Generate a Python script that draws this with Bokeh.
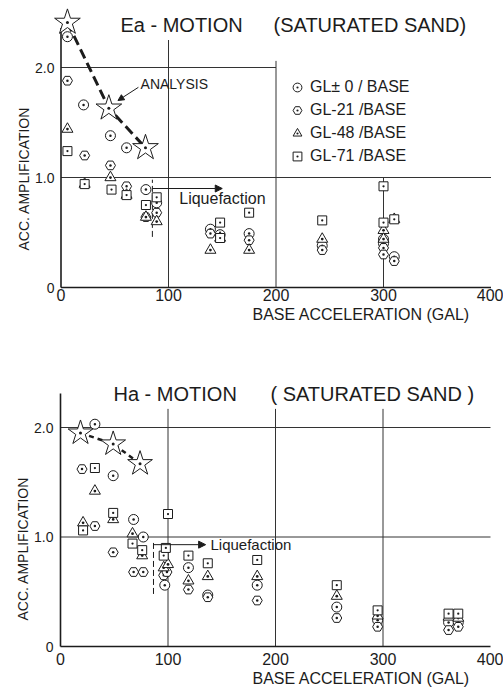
import numpy as np
from bokeh.plotting import figure
from bokeh.layouts import column
from bokeh.models import Range1d, FixedTicker, Title, Arrow, NormalHead, Legend, LegendItem
from bokeh.embed import file_html
from bokeh.resources import INLINE
from bokeh.core.properties import value

FONT = "Liberation Sans"
INK = "#1c1c1c"

# ---------------- tick labels / categories ----------------
X_TICKS = [0, 100, 200, 300, 400]
Y_TICKS = [0, 1, 2]
Y_TICK_LABELS = {0: "0", 1: "1.0", 2: "2.0"}
SERIES = ["GL± 0 / BASE", "GL-21 /BASE", "GL-48 /BASE", "GL-71 /BASE"]
MARKERS = ["circle_dot", "hex_dot", "triangle_dot", "square_dot"]

# ---------------- Ea - MOTION (top) ----------------
ea_gl0_x = [6, 21, 46, 61, 79, 89, 139, 148, 175, 243, 300, 300, 310]
ea_gl0_y = [2.28, 1.66, 1.38, 1.27, 0.89, 0.77, 0.53, 0.48, 0.49, 0.38, 0.44, 0.40, 0.28]
ea_gl21_x = [6, 22, 46, 61, 79, 89, 139, 175, 243, 300, 300, 310]
ea_gl21_y = [1.88, 1.20, 1.11, 0.92, 0.64, 0.68, 0.49, 0.43, 0.34, 0.36, 0.30, 0.24]
ea_gl48_x = [6, 22, 46, 61, 79, 89, 139, 148, 175, 243, 300, 300, 310]
ea_gl48_y = [1.44, 0.94, 1.00, 0.84, 0.64, 0.60, 0.34, 0.45, 0.34, 0.44, 0.52, 0.44, 0.62]
ea_gl71_x = [6, 22, 47, 61, 79, 89, 148, 148, 175, 243, 300, 300, 310]
ea_gl71_y = [1.24, 0.94, 0.89, 0.84, 0.75, 0.82, 0.59, 0.45, 0.68, 0.61, 0.92, 0.59, 0.62]
ea_analysis_x = [6, 44.5, 78.6]
ea_analysis_y = [2.41, 1.63, 1.27]

# ---------------- Ha - MOTION (bottom) ----------------
ha_gl0_x = [32, 49, 68, 77, 97, 119, 137, 183, 257, 295, 361, 370]
ha_gl0_y = [2.03, 1.56, 1.16, 1.00, 0.56, 0.72, 0.47, 0.56, 0.36, 0.24, 0.22, 0.22]
ha_gl21_x = [20, 32, 49, 68, 77, 96, 99, 119, 137, 183, 257, 295, 361, 370]
ha_gl21_y = [1.62, 1.10, 0.86, 0.68, 0.68, 0.65, 0.68, 0.52, 0.45, 0.42, 0.26, 0.18, 0.15, 0.18]
ha_gl48_x = [21, 32, 49, 67, 76, 96, 100, 119, 137, 183, 257, 295, 361, 370]
ha_gl48_y = [1.13, 1.42, 1.16, 1.03, 0.83, 0.72, 0.75, 0.60, 0.64, 0.64, 0.46, 0.28, 0.27, 0.26]
ha_gl71_x = [21, 32, 49, 67, 76, 96, 98, 100, 119, 137, 183, 257, 295, 361, 370]
ha_gl71_y = [1.06, 1.63, 1.22, 0.94, 0.88, 0.83, 0.90, 1.21, 0.83, 0.76, 0.79, 0.56, 0.33, 0.30, 0.30]
ha_analysis_x = [18.6, 49, 74]
ha_analysis_y = [1.95, 1.85, 1.67]

Y_LABEL = "ACC. AMPLIFICATION"
X_LABEL = "BASE ACCELERATION  (GAL)"


def base_fig(height, x_range, y_range, border_bottom, y_standoff, x_standoff, ylab_offset, xlab_offset):
    p = figure(width=503, height=height, x_range=Range1d(*x_range), y_range=Range1d(*y_range),
               output_backend="svg", toolbar_location=None, title=None,
               min_border_left=50, min_border_right=3, min_border_top=0,
               min_border_bottom=border_bottom)
    p.outline_line_color = None
    p.background_fill_color = "white"
    p.border_fill_color = "white"
    p.grid.visible = False
    for ax in (p.xaxis, p.yaxis):
        ax.axis_line_color = None
        ax.major_tick_line_color = None
        ax.minor_tick_line_color = None
        ax.major_tick_in = 0
        ax.major_tick_out = 0
        ax.major_label_text_font = FONT
        ax.major_label_text_color = INK
    p.xaxis.ticker = FixedTicker(ticks=X_TICKS)
    p.yaxis.ticker = FixedTicker(ticks=Y_TICKS)
    p.yaxis.major_label_overrides = Y_TICK_LABELS
    p.xaxis.major_label_text_font_size = "16px"
    p.yaxis.major_label_text_font_size = "14px"
    p.yaxis.major_label_standoff = y_standoff
    p.xaxis.major_label_standoff = x_standoff
    p.add_layout(Title(text=Y_LABEL, align="left", offset=ylab_offset, standoff=2,
                       text_font=FONT, text_font_size="14px", text_font_style="normal",
                       text_color=INK), "left")
    p.add_layout(Title(text=X_LABEL, align="right", offset=xlab_offset, standoff=0,
                       text_font=FONT, text_font_size="16px", text_font_style="normal",
                       text_color=INK), "below")
    return p


def draw_points(p, xs, ys):
    rends = []
    for (x, y), m in zip(zip(xs, ys), MARKERS):
        size = 9 if m == "square_dot" else (11 if m == "triangle_dot" else 10)
        r = p.scatter(x, y, marker=m, size=size, fill_color="white", line_color=INK, line_width=1)
        rends.append(r)
    return rends


def draw_stars(p, xs, ys, size):
    p.scatter(xs, ys, marker="star", size=size, fill_color="white", line_color=INK, line_width=1)
    p.scatter(xs, ys, marker="circle", size=3, fill_color=INK, line_color=None)


# ======================= TOP PANEL =======================
sx1, x01 = 1.075, 60.5
sy1, y01 = 110.0, 287.0
p1 = base_fig(330, ((50 - x01) / sx1, (500 - x01) / sx1), (-5 / sy1, y01 / sy1), 38, -4, -4, 42, 26)

# partial grid + axis lines
p1.segment(x0=[0, 0], y0=[2, 1], x1=[200, 400], y1=[2, 1], line_color="#333", line_width=1)
p1.segment(x0=X_TICKS[1:4], y0=[0, 0, 0], x1=X_TICKS[1:4], y1=[2.25, 2.06, 1.0],
           line_color="#333", line_width=1)
p1.segment(x0=[0, 0], y0=[0, 0], x1=[0, 400], y1=[2.36, 0], line_color=INK, line_width=1.6)

# liquefaction marker
p1.segment(x0=[85], y0=[0.46], x1=[85], y1=[0.98], line_color=INK, line_width=1, line_dash="6 3")
p1.add_layout(Arrow(x_start=85, y_start=0.90, x_end=150, y_end=0.90, line_width=1, line_color=INK,
                    end=NormalHead(size=7, fill_color=INK, line_color=INK)))
p1.text(x=[110], y=[0.81], text=["Liquefaction"], text_font=value(FONT), text_font_size="16px",
        text_baseline="middle", text_color=INK)

rends1 = draw_points(p1, [ea_gl0_x, ea_gl21_x, ea_gl48_x, ea_gl71_x],
                     [ea_gl0_y, ea_gl21_y, ea_gl48_y, ea_gl71_y])

# analysis
p1.line(ea_analysis_x, ea_analysis_y, line_color=INK, line_width=3, line_dash="10 5")
draw_stars(p1, ea_analysis_x, ea_analysis_y, 27)
p1.add_layout(Arrow(x_start=72, y_start=1.82, x_end=53, y_end=1.70, line_width=1, line_color=INK,
                    end=NormalHead(size=6, fill_color=INK, line_color=INK)))
p1.text(x=[74], y=[1.85], text=["ANALYSIS"], text_font=value(FONT), text_font_size="14px",
        text_baseline="middle", text_color=INK)

# titles
p1.text(x=[55.3, 197.7], y=[2.386, 2.386], text=["Ea - MOTION", "(SATURATED   SAND)"],
        text_font=value(FONT), text_font_size="20px", text_baseline="middle", text_color=INK)

legend = Legend(items=[LegendItem(label=lab, renderers=[r]) for lab, r in zip(SERIES, rends1)],
                location=(236, 125), border_line_color=None, background_fill_alpha=0,
                padding=0, margin=0, spacing=1, glyph_width=22, glyph_height=22,
                label_standoff=2, label_text_font=FONT, label_text_font_size="16px",
                label_text_color=INK)
p1.add_layout(legend)

# ======================= BOTTOM PANEL =======================
sx2, x02 = 1.075, 60.0
sy2, y02 = 109.5, 316.0
p2 = base_fig(357, ((50 - x02) / sx2, (500 - x02) / sx2), (-5 / sy2, y02 / sy2), 36, -3, 1, 31, 26)

p2.segment(x0=[0, 0], y0=[2, 1], x1=[400, 400], y1=[2, 1], line_color="#333", line_width=1)
p2.segment(x0=X_TICKS[1:4], y0=[0, 0, 0], x1=X_TICKS[1:4], y1=[2.17, 2.17, 2.17],
           line_color="#333", line_width=1)
p2.segment(x0=[0, 0], y0=[0, 0], x1=[0, 400], y1=[2.31, 0], line_color=INK, line_width=1.6)

p2.segment(x0=[86.5], y0=[0.48], x1=[86.5], y1=[0.97], line_color=INK, line_width=1, line_dash="6 3")
p2.add_layout(Arrow(x_start=86.5, y_start=0.93, x_end=135, y_end=0.93, line_width=1, line_color=INK,
                    end=NormalHead(size=7, fill_color=INK, line_color=INK)))
p2.text(x=[139.5], y=[0.93], text=["Liquefaction"], text_font=value(FONT), text_font_size="15px",
        text_baseline="middle", text_color=INK)

draw_points(p2, [ha_gl0_x, ha_gl21_x, ha_gl48_x, ha_gl71_x],
            [ha_gl0_y, ha_gl21_y, ha_gl48_y, ha_gl71_y])

p2.line(ha_analysis_x, ha_analysis_y, line_color=INK, line_width=2.5, line_dash="5 4")
draw_stars(p2, ha_analysis_x, ha_analysis_y, 26)

p2.text(x=[49.3, 195.3], y=[2.31, 2.31], text=["Ha - MOTION", "( SATURATED   SAND )"],
        text_font=value(FONT), text_font_size="20px", text_baseline="middle", text_color=INK)

layout = column(p1, p2, spacing=0)
open("out.html", "w").write(file_html(layout, INLINE))
